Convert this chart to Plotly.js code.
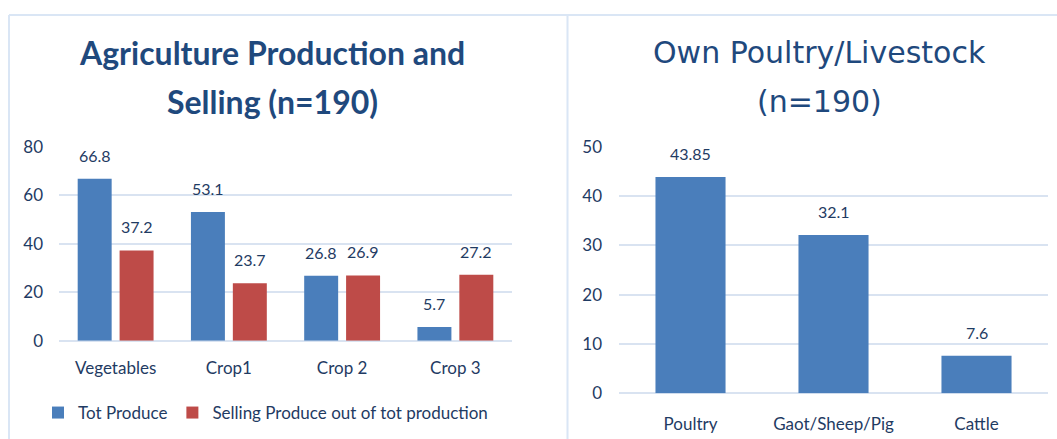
<!DOCTYPE html>
<html>
<head>
<meta charset="utf-8">
<script src="https://cdn.plot.ly/plotly-3.0.1.min.js"></script>
<style>html,body{margin:0;padding:0;background:#fff;}#chart{width:1057px;height:439px;}</style>
</head>
<body>
<div id="chart"></div>
<script>
// ---- data ----
const cropCategories = ["Vegetables", "Crop1", "Crop 2", "Crop 3"];
const totProduce = [66.8, 53.1, 26.8, 5.7];
const totProduceLabels = ["66.8", "53.1", "26.8", "5.7"];
const sellingProduce = [37.2, 23.7, 26.9, 27.2];
const sellingLabels = ["37.2", "23.7", "26.9", "27.2"];
const seriesNames = ["Tot Produce", "Selling Produce out of tot production"];

const livestockCategories = ["Poultry", "Gaot/Sheep/Pig", "Cattle"];
const livestockValues = [43.85, 32.1, 7.6];
const livestockLabels = ["43.85", "32.1", "7.6"];

const leftTitleLines = ["Agriculture Production and", "Selling (n=190)"];
const rightTitleLines = ["Own Poultry/Livestock", "(n=190)"];

// ---- style ----
const W = 1057, H = 439;
const px = v => v / W;
const py = v => 1 - v / H;
const blue = "#4a7ebb", red = "#be4b48";
const textCol = "#1f3b63";
const gridCol = "#d9e3f1";
const borderCol = "#dae6f5";
const font = "Lato, 'Open Sans', sans-serif";

const bw = 0.30, blueOff = -0.335, redOff = 0.035;
const bw2 = 0.49, off2 = -0.245;

const traces = [
  {type: "bar", x: cropCategories, y: totProduce, name: seriesNames[0],
   marker: {color: blue}, width: bw, offset: blueOff, xaxis: "x", yaxis: "y", hoverinfo: "x+y"},
  {type: "bar", x: cropCategories, y: sellingProduce, name: seriesNames[1],
   marker: {color: red}, width: bw, offset: redOff, xaxis: "x", yaxis: "y", hoverinfo: "x+y"},
  {type: "bar", x: livestockCategories, y: livestockValues, name: "Livestock", showlegend: false,
   marker: {color: blue}, width: bw2, offset: off2, xaxis: "x2", yaxis: "y2", hoverinfo: "x+y"}
];

const annotations = [];
const lblFont = {family: font, size: 16, color: textCol};
cropCategories.forEach((c, i) => {
  annotations.push({x: i + blueOff + bw / 2, y: totProduce[i], xref: "x", yref: "y",
    text: totProduceLabels[i], showarrow: false, yanchor: "bottom", yshift: 12, font: lblFont});
  annotations.push({x: i + redOff + bw / 2, y: sellingProduce[i], xref: "x", yref: "y",
    text: sellingLabels[i], showarrow: false, yanchor: "bottom", yshift: 12, font: lblFont});
});
livestockCategories.forEach((c, i) => {
  annotations.push({x: i + off2 + bw2 / 2, y: livestockValues[i], xref: "x2", yref: "y2",
    text: livestockLabels[i], showarrow: false, yanchor: "bottom", yshift: 12, font: lblFont});
});
const titleY = [53, 101];
leftTitleLines.forEach((t, i) => annotations.push({x: px(272), y: py(titleY[i]), xref: "paper", yref: "paper", text: t,
  showarrow: false, xanchor: "center", yanchor: "middle",
  font: {family: font, size: 32, color: "#1f497d", weight: 700}}));
rightTitleLines.forEach((t, i) => annotations.push({x: px(819), y: py(titleY[i]), xref: "paper", yref: "paper", text: t,
  showarrow: false, xanchor: "center", yanchor: "middle",
  font: {family: "'DejaVu Sans', Verdana, sans-serif", size: 30, color: "#1f497d"}}));

const shapes = [
  {type: "line", xref: "paper", yref: "paper", x0: px(9), x1: px(1057), y0: py(15), y1: py(15), line: {color: borderCol, width: 2}},
  {type: "line", xref: "paper", yref: "paper", x0: px(9), x1: px(9), y0: py(15), y1: py(439), line: {color: borderCol, width: 2}},
  {type: "line", xref: "paper", yref: "paper", x0: px(567.5), x1: px(567.5), y0: py(15), y1: py(439), line: {color: borderCol, width: 2}}
];

const tickFont = {family: font, size: 17, color: textCol};
const catFont = {family: font, size: 17, color: textCol};
const layout = {
  width: W, height: H,
  margin: {l: 0, r: 0, t: 0, b: 0},
  paper_bgcolor: "#fff", plot_bgcolor: "#fff",
  barmode: "group",
  showlegend: true,
  legend: {orientation: "h", x: px(38), y: py(413), xanchor: "left", yanchor: "middle",
    font: {family: font, size: 17, color: textCol}, itemwidth: 30, tracegroupgap: 0},
  xaxis: {domain: [px(59), px(512)], anchor: "y", type: "category", tickfont: catFont,
    showgrid: false, showline: false, ticks: "", ticklabelstandoff: 15, fixedrange: true},
  yaxis: {domain: [py(340.7), py(146.7)], anchor: "x", range: [0, 80], dtick: 20,
    tickfont: tickFont, gridcolor: gridCol, gridwidth: 2, zeroline: true, zerolinecolor: gridCol, zerolinewidth: 2,
    showline: false, ticks: "", ticklabelstandoff: 15, fixedrange: true},
  xaxis2: {domain: [px(619), px(1048)], anchor: "y2", type: "category", tickfont: catFont,
    showgrid: false, showline: false, ticks: "", ticklabelstandoff: 19, fixedrange: true},
  yaxis2: {domain: [py(393.3), py(146.7)], anchor: "x2", range: [0, 50], dtick: 10,
    tickfont: tickFont, gridcolor: gridCol, gridwidth: 2, zeroline: true, zerolinecolor: gridCol, zerolinewidth: 2,
    showline: false, ticks: "", ticklabelstandoff: 16, fixedrange: true},
  annotations: annotations,
  shapes: shapes
};

Plotly.newPlot("chart", traces, layout, {displayModeBar: false, staticPlot: true});
</script>
</body>
</html>
